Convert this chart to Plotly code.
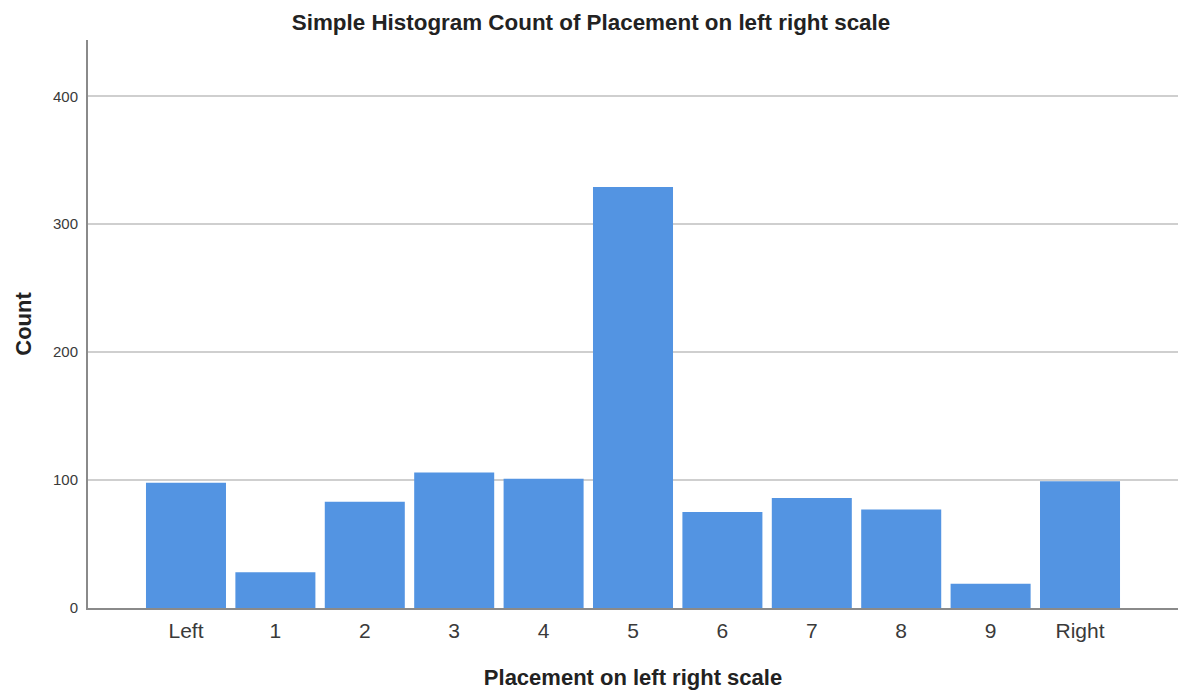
import plotly.graph_objects as go

categories = ["Left", "1", "2", "3", "4", "5", "6", "7", "8", "9", "Right"]
counts = [98, 28, 83, 106, 101, 329, 75, 86, 77, 19, 99]
y_ticks = [0, 100, 200, 300, 400]

fig = go.Figure(
    go.Bar(
        x=list(range(len(categories))),
        y=counts,
        marker=dict(color="rgb(83,148,226)", line=dict(width=0)),
        width=0.895,
    )
)

fig.update_layout(
    width=1182,
    height=690,
    margin=dict(l=88, r=4, t=40, b=82),
    paper_bgcolor="white",
    plot_bgcolor="white",
    font=dict(family="Liberation Sans, Arial, sans-serif", color="#333"),
    title=dict(
        text="<b>Simple Histogram Count of Placement on left right scale</b>",
        x=0.5, xanchor="center", y=0.968, yanchor="middle",
        font=dict(size=22.4, color="#222"),
    ),
    showlegend=False,
)

fig.update_xaxes(
    tickmode="array",
    tickvals=list(range(len(categories))),
    ticktext=categories,
    range=[-1.096, 11.096],
    showgrid=False,
    showline=True,
    linecolor="#8a8a8a",
    linewidth=2,
    ticks="",
    ticklabelstandoff=3,
    tickfont=dict(size=21, color="#3a3a3a"),
    title=dict(text="<b>Placement on left right scale</b>", font=dict(size=22, color="#222"), standoff=29),
    zeroline=False,
)

fig.update_yaxes(
    range=[0, 444],
    tickmode="array",
    tickvals=y_ticks,
    showgrid=True,
    gridcolor="#cfcfcf",
    gridwidth=1.5,
    showline=True,
    linecolor="#8a8a8a",
    linewidth=2,
    ticks="",
    ticklabelstandoff=5,
    tickfont=dict(size=15, color="#3a3a3a"),
    title=dict(text="<b>Count</b>", font=dict(size=22, color="#222"), standoff=15),
    zeroline=False,
)

fig.write_html(
    "out.html",
    config={"displayModeBar": False},
    post_script="document.body.style.margin='0';document.body.style.overflow='hidden';",
)
